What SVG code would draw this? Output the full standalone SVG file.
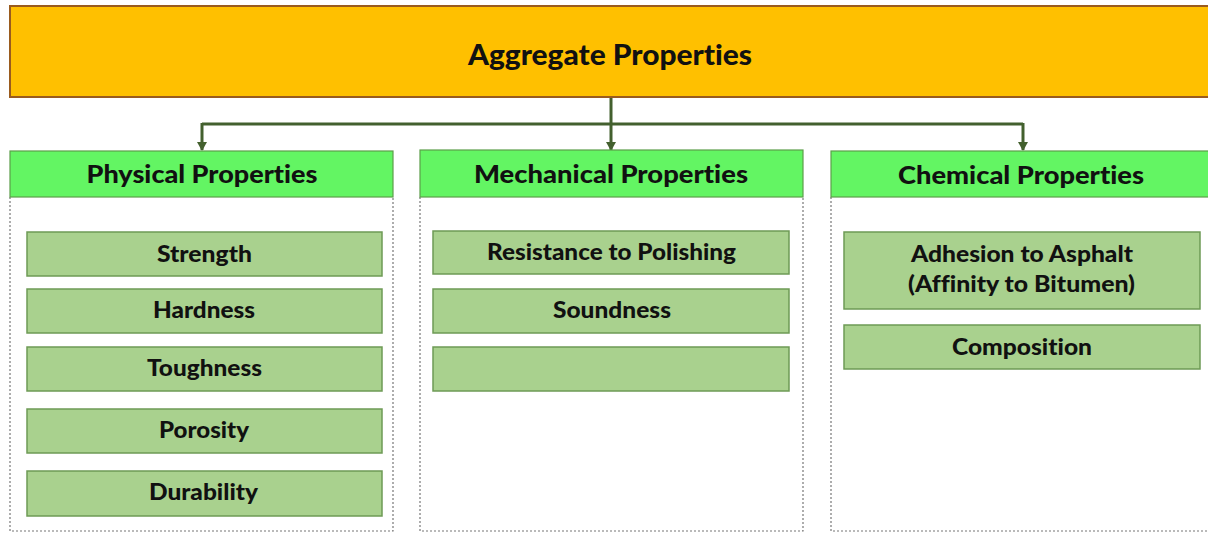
<svg xmlns="http://www.w3.org/2000/svg" width="1208" height="535" viewBox="0 0 1208 535">
  <style>
    text { font-family: "Lato", "Liberation Sans", sans-serif; font-weight: 900; fill: #111; text-anchor: middle; font-variant-ligatures: none; }
    .root { fill: #FFC000; stroke: #9A5B1E; stroke-width: 2; }
    .head { fill: #63F563; stroke: #5C9E4A; stroke-width: 1.2; }
    .item { fill: #A9D18E; stroke: #6E9A55; stroke-width: 1.5; }
    .col { fill: none; stroke: #777; stroke-width: 1.2; stroke-dasharray: 2 2; }
    .conn { fill: none; stroke: #43602E; stroke-width: 3; }
    .t-root { font-size: 28px; }
    .t-head { font-size: 25px; }
    .t-item { font-size: 22px; }
  </style>
  <defs>
    <marker id="arrow" markerWidth="10" markerHeight="10" refX="8" refY="5" orient="auto" markerUnits="userSpaceOnUse" viewBox="0 0 10 10">
      <path d="M0,0 L9,5 L0,10 Z" fill="#43602E"/>
    </marker>
  </defs>
  <rect width="1208" height="535" fill="#fff"/>

  <!-- column frames -->
  <g id="columns">
    <path class="col" d="M10,197 V531 H393 V197"/>
    <path class="col" d="M420,197 V531 H803 V197"/>
    <path class="col" d="M831,197 V531 H1215"/>
  </g>

  <!-- connectors -->
  <g id="connectors">
    <path class="conn" d="M611,97 V124"/>
    <path class="conn" d="M202,124 H1023"/>
    <path class="conn" d="M611,124 V150" marker-end="url(#arrow)"/>
    <path class="conn" d="M202,123 V150" marker-end="url(#arrow)"/>
    <path class="conn" d="M1023,123 V150" marker-end="url(#arrow)"/>
  </g>

  <g id="aggregate">
    <rect class="root" x="10" y="6" width="1210" height="91"/>
    <text class="t-root" x="610" y="65" textLength="284" lengthAdjust="spacingAndGlyphs">Aggregate Properties</text>
  </g>

  <g id="physical">
    <rect class="head" x="10" y="151" width="383" height="46"/>
    <text class="t-head" x="202" y="183" textLength="231" lengthAdjust="spacingAndGlyphs">Physical Properties</text>
  </g>
  <g id="mechanical">
    <rect class="head" x="420" y="150" width="383" height="47"/>
    <text class="t-head" x="611" y="183" textLength="274" lengthAdjust="spacingAndGlyphs">Mechanical Properties</text>
  </g>
  <g id="chemical">
    <rect class="head" x="831" y="151" width="390" height="46"/>
    <text class="t-head" x="1021" y="184" textLength="246" lengthAdjust="spacingAndGlyphs">Chemical Properties</text>
  </g>

  <!-- physical items -->
  <g id="strength">
    <rect class="item" x="27" y="232" width="355" height="44"/>
    <text class="t-item" x="204.5" y="262" textLength="95" lengthAdjust="spacingAndGlyphs">Strength</text>
  </g>
  <g id="hardness">
    <rect class="item" x="27" y="289" width="355" height="44"/>
    <text class="t-item" x="204" y="318" textLength="102" lengthAdjust="spacingAndGlyphs">Hardness</text>
  </g>
  <g id="toughness">
    <rect class="item" x="27" y="347" width="355" height="44"/>
    <text class="t-item" x="204.5" y="376" textLength="115" lengthAdjust="spacingAndGlyphs">Toughness</text>
  </g>
  <g id="porosity">
    <rect class="item" x="27" y="409" width="355" height="44"/>
    <text class="t-item" x="204" y="438" textLength="90" lengthAdjust="spacingAndGlyphs">Porosity</text>
  </g>
  <g id="durability">
    <rect class="item" x="27" y="471" width="355" height="45"/>
    <text class="t-item" x="203.5" y="500" textLength="109" lengthAdjust="spacingAndGlyphs">Durability</text>
  </g>

  <!-- mechanical items -->
  <g id="polishing">
    <rect class="item" x="433" y="231" width="356" height="43"/>
    <text class="t-item" x="611.5" y="260" textLength="249" lengthAdjust="spacingAndGlyphs">Resistance to Polishing</text>
  </g>
  <g id="soundness">
    <rect class="item" x="433" y="289" width="356" height="44"/>
    <text class="t-item" x="612" y="318" textLength="118" lengthAdjust="spacingAndGlyphs">Soundness</text>
  </g>
  <g id="blank">
    <rect class="item" x="433" y="347" width="356" height="44"/>
  </g>

  <!-- chemical items -->
  <g id="adhesion">
    <rect class="item" x="844" y="232" width="356" height="77"/>
    <text class="t-item" x="1022" y="262" textLength="222" lengthAdjust="spacingAndGlyphs">Adhesion to Asphalt</text>
    <text class="t-item" x="1021.5" y="292" textLength="227" lengthAdjust="spacingAndGlyphs">(Affinity to Bitumen)</text>
  </g>
  <g id="composition">
    <rect class="item" x="844" y="325" width="356" height="44"/>
    <text class="t-item" x="1022" y="355" textLength="140" lengthAdjust="spacingAndGlyphs">Composition</text>
  </g>
</svg>
